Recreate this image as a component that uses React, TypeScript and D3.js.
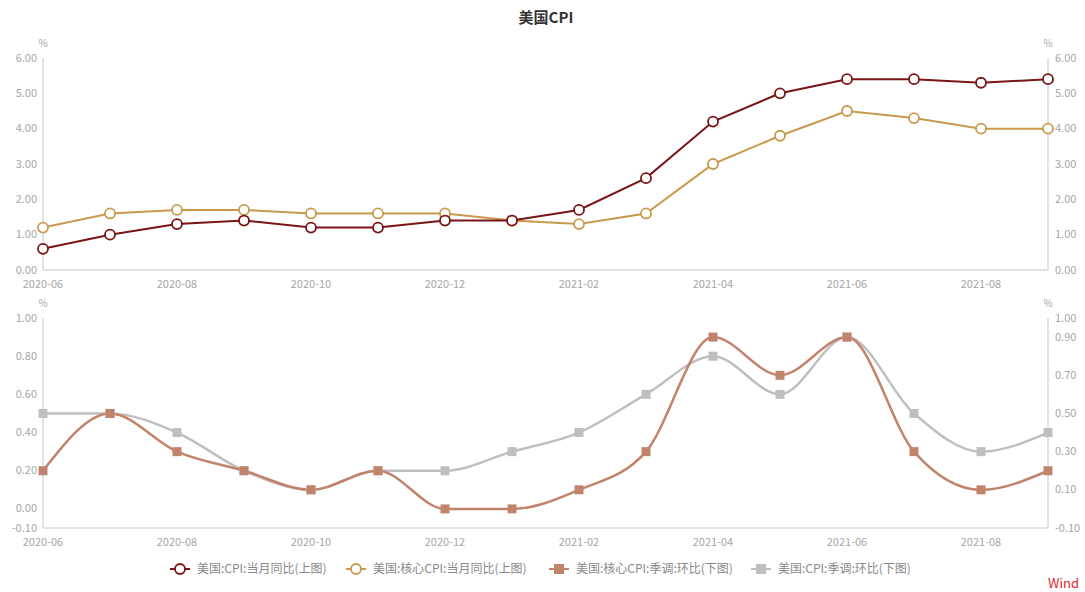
import * as d3 from 'd3'
import { useEffect, useRef } from 'react'

const months = [
  '2020-06', '2020-07', '2020-08', '2020-09', '2020-10', '2020-11', '2020-12', '2021-01',
  '2021-02', '2021-03', '2021-04', '2021-05', '2021-06', '2021-07', '2021-08', '2021-09',
]
const cpiYoY = [0.6, 1.0, 1.3, 1.4, 1.2, 1.2, 1.4, 1.4, 1.7, 2.6, 4.2, 5.0, 5.4, 5.4, 5.3, 5.4]
const coreYoY = [1.2, 1.6, 1.7, 1.7, 1.6, 1.6, 1.6, 1.4, 1.3, 1.6, 3.0, 3.8, 4.5, 4.3, 4.0, 4.0]
const coreMoM = [0.2, 0.5, 0.3, 0.2, 0.1, 0.2, 0.0, 0.0, 0.1, 0.3, 0.9, 0.7, 0.9, 0.3, 0.1, 0.2]
const cpiMoM = [0.5, 0.5, 0.4, 0.2, 0.1, 0.2, 0.2, 0.3, 0.4, 0.6, 0.8, 0.6, 0.9, 0.5, 0.3, 0.4]

const xTickLabels = ['2020-06', '2020-08', '2020-10', '2020-12', '2021-02', '2021-04', '2021-06', '2021-08']
const topTicks = [0, 1, 2, 3, 4, 5, 6]
const bottomLeftTicks = [-0.1, 0, 0.2, 0.4, 0.6, 0.8, 1.0]
const bottomRightTicks = [-0.1, 0.1, 0.3, 0.5, 0.7, 0.9, 1.0]

const legendNames = [
  '美国:CPI:当月同比(上图)',
  '美国:核心CPI:当月同比(上图)',
  '美国:核心CPI:季调:环比(下图)',
  '美国:CPI:季调:环比(下图)',
]

const C_CPI = '#7a1416'
const C_CORE = '#c99a4e'
const C_CORE_MOM = '#c2836c'
const C_CPI_MOM = '#bfbfbf'
const AXIS = '#c8c8c8'
const LABEL = '#a6a6a6'
const FONT = '"Noto Sans CJK SC", "Noto Sans", sans-serif'

export default function App() {
  const svgRef = useRef<SVGSVGElement | null>(null)

  useEffect(() => {
    if (!svgRef.current)
      return
    const svg = d3.select(svgRef.current)
    svg.selectAll('*').remove()
    svg.attr('font-family', FONT)

    const left = 43
    const right = 1048
    const x = d3.scalePoint<string>().domain(months).range([left, right])
    const yTop = d3.scaleLinear().domain([0, 6]).range([270, 58])
    const yBot = d3.scaleLinear().domain([-0.1, 1]).range([528, 318])

    // title
    svg.append('text').attr('x', 546).attr('y', 23).attr('text-anchor', 'middle')
      .attr('font-size', 15).attr('font-weight', 'bold').attr('fill', '#333').text('美国CPI')

    const drawAxes = (y: d3.ScaleLinear<number, number>, lt: number[], rt: number[], fmt: (v: number) => string) => {
      const [y0, y1] = y.range()
      const g = svg.append('g')
      g.append('line').attr('x1', left).attr('x2', left).attr('y1', y1).attr('y2', y0).attr('stroke', AXIS)
      g.append('line').attr('x1', right).attr('x2', right).attr('y1', y1).attr('y2', y0).attr('stroke', AXIS)
      g.append('line').attr('x1', left).attr('x2', right).attr('y1', y0).attr('y2', y0).attr('stroke', AXIS)
      g.selectAll('text.l').data(lt).enter().append('text')
        .attr('x', left - 6).attr('y', d => y(d) + 3.5).attr('text-anchor', 'end')
        .attr('font-size', 11).attr('fill', LABEL).text(fmt)
      g.selectAll('text.r').data(rt).enter().append('text')
        .attr('x', right + 7).attr('y', d => y(d) + 3.5).attr('text-anchor', 'start')
        .attr('font-size', 11).attr('fill', LABEL).text(fmt)
      g.selectAll('text.x').data(xTickLabels).enter().append('text')
        .attr('x', d => x(d) || 0).attr('y', y0 + 18).attr('text-anchor', 'middle')
        .attr('font-size', 11).attr('fill', LABEL).text(d => d)
      g.append('text').attr('x', left).attr('y', y1 - 11).attr('text-anchor', 'middle')
        .attr('font-size', 10).attr('fill', LABEL).text('%')
      g.append('text').attr('x', right).attr('y', y1 - 11).attr('text-anchor', 'middle')
        .attr('font-size', 10).attr('fill', LABEL).text('%')
    }

    drawAxes(yTop, topTicks, topTicks, v => v.toFixed(2))
    drawAxes(yBot, bottomLeftTicks, bottomRightTicks, v => v.toFixed(2))

    // top chart lines with hollow circles
    const lineTop = d3.line<number>().x((_, i) => x(months[i]) || 0).y(d => yTop(d))
    const topSeries: [number[], string][] = [[coreYoY, C_CORE], [cpiYoY, C_CPI]]
    topSeries.forEach(([data, color]) => {
      svg.append('path').attr('d', lineTop(data)).attr('fill', 'none')
        .attr('stroke', color).attr('stroke-width', 2)
      svg.append('g').selectAll('circle').data(data).enter().append('circle')
        .attr('cx', (_, i) => x(months[i]) || 0).attr('cy', d => yTop(d)).attr('r', 5)
        .attr('fill', '#fff').attr('stroke', color).attr('stroke-width', 1.8)
    })

    // bottom chart smooth lines with squares
    const lineBot = d3.line<number>().x((_, i) => x(months[i]) || 0).y(d => yBot(d)).curve(d3.curveMonotoneX)
    const botSeries: [number[], string][] = [[cpiMoM, C_CPI_MOM], [coreMoM, C_CORE_MOM]]
    botSeries.forEach(([data, color]) => {
      svg.append('path').attr('d', lineBot(data)).attr('fill', 'none')
        .attr('stroke', color).attr('stroke-width', 2.5)
    })
    botSeries.forEach(([data, color]) => {
      svg.append('g').selectAll('rect').data(data).enter().append('rect')
        .attr('x', (_, i) => (x(months[i]) || 0) - 4.5).attr('y', d => yBot(d) - 4.5)
        .attr('width', 9).attr('height', 9).attr('fill', color)
    })

    // legend
    const legendX = [170, 346, 549, 751]
    const legendColors = [C_CPI, C_CORE, C_CORE_MOM, C_CPI_MOM]
    const ly = 569
    legendNames.forEach((name, i) => {
      const g = svg.append('g').attr('transform', `translate(${legendX[i]},${ly})`)
      g.append('line').attr('x1', 0).attr('x2', 20).attr('y1', 0).attr('y2', 0)
        .attr('stroke', legendColors[i]).attr('stroke-width', 2)
      if (i < 2) {
        g.append('circle').attr('cx', 10).attr('cy', 0).attr('r', 5)
          .attr('fill', '#fff').attr('stroke', legendColors[i]).attr('stroke-width', 1.8)
      }
      else {
        g.append('rect').attr('x', 5).attr('y', -5).attr('width', 10).attr('height', 10)
          .attr('fill', legendColors[i])
      }
      g.append('text').attr('x', 27).attr('y', 4).attr('font-size', 12)
        .attr('fill', '#888').text(name)
    })

    svg.append('text').attr('x', 1079).attr('y', 588).attr('text-anchor', 'end')
      .attr('font-size', 13).attr('fill', '#e0262b').text('Wind')
  }, [])

  return (
    <svg
      ref={svgRef}
      width={1085}
      height={592}
      style={{ position: 'absolute', left: 0, top: 0, background: '#fff' }}
    />
  )
}
